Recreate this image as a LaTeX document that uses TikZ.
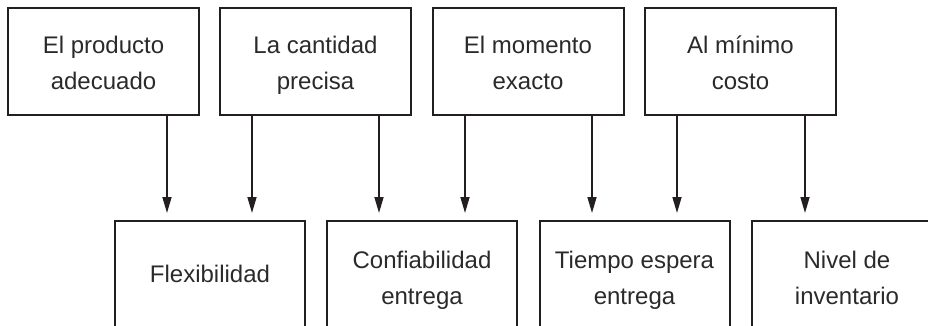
\documentclass[tikz,border=0pt]{standalone}
\usepackage{fontspec}
\setmainfont{Liberation Sans}
\usetikzlibrary{arrows.meta}
\definecolor{ink}{HTML}{231F20}
\definecolor{txt}{HTML}{2A2A2A}
\newcommand{\ls}{\rule[-7.5pt]{0pt}{36pt}}
\tikzset{
  box/.style={draw=ink, line width=2pt, inner sep=0pt, outer sep=0pt,
    align=center, text=txt, font=\fontsize{24}{36}\selectfont},
  topbox/.style={box, minimum width=191pt, minimum height=107pt},
  botbox/.style={box, minimum width=190pt, minimum height=109pt},
  arr/.style={draw=ink, line width=1.6pt, -{Triangle[length=16pt, width=9pt]}, shorten >=8pt}
}
\begin{document}
\begin{tikzpicture}[x=1pt, y=-1pt]
\useasboundingbox (0,0) rectangle (928,326);
\clip (0,0) rectangle (928,326);
\node[topbox] (t1) at (103.5,61.5) {\ls El producto\\\ls adecuado};
\node[topbox] (t2) at (315.5,61.5) {\ls La cantidad\\\ls precisa};
\node[topbox] (t3) at (528,61.5) {\ls El momento\\\ls exacto};
\node[topbox] (t4) at (740.5,61.5) {\ls Al mínimo\\\ls costo};
\node[botbox, text height=24.5pt, text depth=11.5pt] (b1) at (210,275.5) {Flexibilidad};
\node[botbox] (b2) at (422,275.5) {\ls Confiabilidad\\\ls entrega};
\node[botbox] (b3) at (634.5,275.5) {\ls Tiempo espera\\\ls entrega};
\node[botbox] (b4) at (847,275.5) {\ls Nivel de\\\ls inventario};
\coordinate (x1) at (167,0);
\coordinate (x2) at (252,0);
\coordinate (x3) at (379,0);
\coordinate (x4) at (465,0);
\coordinate (x5) at (592,0);
\coordinate (x6) at (677,0);
\coordinate (x7) at (805,0);
\draw[arr] (t1.south -| x1) -- (b1.north -| x1);
\draw[arr] (t2.south -| x2) -- (b1.north -| x2);
\draw[arr] (t2.south -| x3) -- (b2.north -| x3);
\draw[arr] (t3.south -| x4) -- (b2.north -| x4);
\draw[arr] (t3.south -| x5) -- (b3.north -| x5);
\draw[arr] (t4.south -| x6) -- (b3.north -| x6);
\draw[arr] (t4.south -| x7) -- (b4.north -| x7);
\end{tikzpicture}
\end{document}
